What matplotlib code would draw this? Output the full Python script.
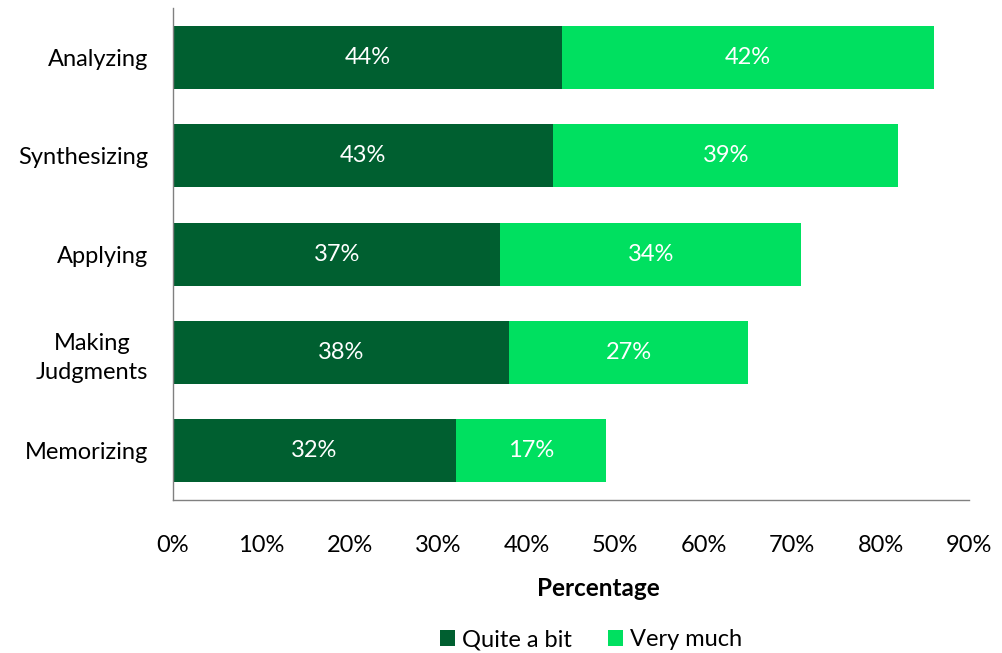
import matplotlib

matplotlib.use("Agg")
import matplotlib.pyplot as plt
from matplotlib.ticker import PercentFormatter

plt.rcParams["font.family"] = ["Lato", "DejaVu Sans"]

DARK = "#005F30"
LIGHT = "#00E060"

skills = ["Analyzing", "Synthesizing", "Applying", "Making\nJudgments", "Memorizing"]
quite_a_bit = [44, 43, 37, 38, 32]
very_much = [42, 39, 34, 27, 17]

fig = plt.figure(figsize=(10.02, 6.53), dpi=100)
ax = fig.add_axes([0.1727, 0.2343, 0.7944, 0.7534])

y = list(range(len(skills)))
b1 = ax.barh(y, quite_a_bit, height=0.64, color=DARK, label="Quite a bit")
b2 = ax.barh(y, very_much, left=quite_a_bit, height=0.64, color=LIGHT, label="Very much")

for bars in (b1, b2):
    ax.bar_label(bars, labels=[f"{v:.0f}%" for v in bars.datavalues],
                 label_type="center", color="white", fontsize=17)

ax.set_ylim(4.5, -0.5)
ax.set_xlim(0, 90)
ax.set_xticks(range(0, 91, 10))
ax.xaxis.set_major_formatter(PercentFormatter(decimals=0))
ax.set_yticks(y)
ax.set_yticklabels(skills, fontsize=17, linespacing=1.45, multialignment="center")
ax.tick_params(axis="x", labelsize=17, length=0, pad=25)
ax.tick_params(axis="y", length=0, pad=18)
ax.tick_params(colors="black")

for side in ("top", "right"):
    ax.spines[side].set_visible(False)
for side in ("left", "bottom"):
    ax.spines[side].set_color("#808080")
    ax.spines[side].set_linewidth(1)

ax.set_xlabel("Percentage", fontsize=17.5, fontweight="bold", labelpad=15, x=0.534)

fig.legend(handles=[b1, b2], loc="center", bbox_to_anchor=(0.59, 0.02),
           ncol=2, frameon=False, fontsize=17, handlelength=0.65,
           handleheight=0.65, handletextpad=0.3, columnspacing=1.5)

fig.savefig("out.png", dpi=100)
